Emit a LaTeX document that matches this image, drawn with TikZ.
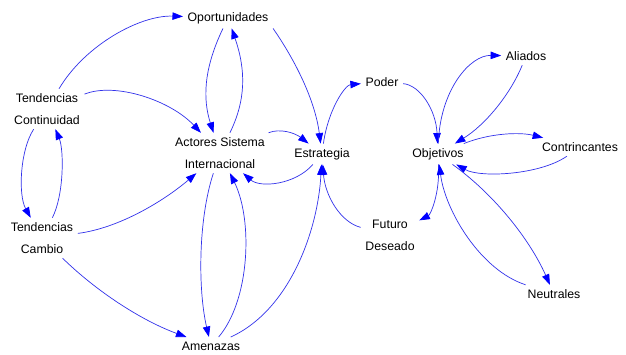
\documentclass[tikz,border=0pt]{standalone}
\usepackage{fontspec}
\setmainfont{Liberation Sans}
\usetikzlibrary{arrows.meta}
\begin{document}
\begin{tikzpicture}[x=1pt,y=-1pt,
  lbl/.style={inner sep=4.5pt, align=center, font=\fontsize{12.3}{22}\selectfont},
  link/.style={draw={rgb,255:red,50;green,50;blue,235}, line width=0.7pt,
    -{Triangle[length=10.5pt,width=7.5pt,color=blue]}, fill=none}]
\useasboundingbox (0,0) rectangle (626,355);
\fill[white] (0,0) rectangle (626,355);
\node[lbl] (op) at (228,18) {Oportunidades};
\node[lbl] (tc) at (47,109) {Tendencias\\Continuidad};
\node[lbl] (ac) at (220,153) {Actores Sistema\\Internacional};
\node[lbl] (es) at (322,154) {Estrategia};
\node[lbl] (tca) at (42,238) {Tendencias\\Cambio};
\node[lbl] (am) at (211,346) {Amenazas};
\node[lbl] (po) at (382,82) {Poder};
\node[lbl] (ob) at (438,154) {Objetivos};
\node[lbl] (al) at (526,56) {Aliados};
\node[lbl] (co) at (580,147) {Contrincantes};
\node[lbl] (fd) at (390,235) {Futuro\\Deseado};
\node[lbl] (ne) at (554,294) {Neutrales};

\draw[link] (tc) .. controls (85,45) and (140,15) .. (op);
\draw[link] (tc) .. controls (115,82) and (170,100) .. (ac);
\draw[link] (tc) .. controls (20,150) and (18,195) .. (tca);
\draw[link] (tca) .. controls (64,195) and (64,150) .. (tc);
\draw[link] (tca) .. controls (120,228) and (165,200) .. (ac);
\draw[link] (tca) .. controls (95,290) and (140,320) .. (am);
\draw[link] (op) .. controls (203,70) and (203,100) .. (ac);
\draw[link] (ac) .. controls (246,100) and (246,70) .. (op);
\draw[link] (op.south east) .. controls (295,60) and (315,100) .. (es);
\draw[link] (ac) .. controls (280,128) and (295,133) .. (es);
\draw[link] (es) .. controls (295,185) and (260,188) .. (ac);
\draw[link] (ac) .. controls (198,220) and (198,290) .. (am);
\draw[link] (am) .. controls (250,300) and (253,220) .. (ac);
\draw[link] (am) .. controls (290,310) and (318,230) .. (es);
\draw[link] (es) .. controls (328,110) and (345,85) .. (po);
\draw[link] (po) .. controls (420,85) and (436,110) .. (ob);
\draw[link] (fd) .. controls (340,222) and (325,195) .. (es);
\draw[link] (ob) .. controls (440,195) and (430,215) .. (fd);
\draw[link] (ob) .. controls (440,90) and (470,55) .. (al);
\draw[link] (al) .. controls (510,95) and (485,125) .. (ob);
\draw[link] (ob) .. controls (490,133) and (520,132) .. (co);
\draw[link] (co) .. controls (540,175) and (480,178) .. (ob);
\draw[link] (ob) .. controls (495,195) and (530,240) .. (ne);
\draw[link] (ne) .. controls (480,270) and (445,210) .. (ob);
\end{tikzpicture}
\end{document}
